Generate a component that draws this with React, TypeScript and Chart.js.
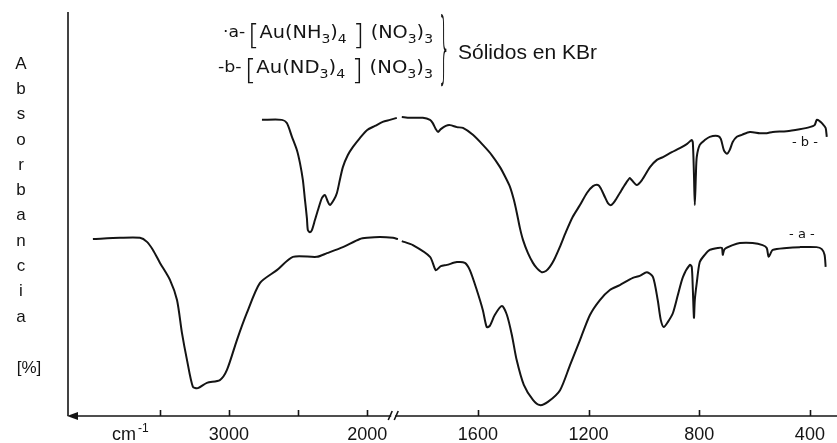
import { useEffect, useRef } from "react";
import { Chart, registerables, LinearScale } from "chart.js";

// Spectrum a: [Au(NH3)4](NO3)3 — wavenumber (cm-1) and absorbance reading (%).
// A null value marks the splice in the recorder trace.
const wavenumbersA = [
  3983, 3787, 3643, 3592, 3549, 3498, 3426, 3375, 3339, 3303, 3260, 3224, 3159, 3065, 3014,
  2942, 2870, 2776, 2653, 2537, 2364, 2291, 2176, 2053, 2000, 1954, 1907, 1889, 1882, 1875,
  1835, 1773, 1752, 1734, 1712, 1676, 1647, 1629, 1604, 1582, 1568, 1557, 1539, 1513, 1495,
  1477, 1460, 1434, 1401, 1376, 1347, 1303, 1267, 1231, 1195, 1159, 1123, 1087, 1040, 1015,
  989, 967, 950, 939, 928, 913, 895, 877, 859, 834, 827, 823, 819, 816, 809, 798, 780, 762,
  733, 718, 715, 708, 679, 653, 607, 571, 556, 549, 534, 484, 437, 376, 357, 347, 343,
];
const absorbanceA: (number | null)[] = [
  43.8, 44.1, 44.1, 43.1, 41.1, 37.9, 33.7, 28.7, 20.5, 13.9, 7.2, 6.9, 8.2, 8.9, 11.4,
  18.8, 25.5, 32.9, 36.1, 39.4, 39.4, 40.3, 41.8, 43.8, 44.1, 44.3, 44.1, 43.8, null, 43.3,
  42.3, 39.4, 36.1, 37.1, 37.4, 38.1, 37.9, 36.1, 31.2, 26.2, 22.0, 22.3, 25.0, 27.2, 25.0,
  20.0, 13.9, 7.7, 4.0, 2.7, 3.5, 6.4, 12.6, 18.8, 25.0, 28.7, 31.2, 32.4, 34.2, 34.7,
  35.6, 34.4, 28.7, 23.8, 22.0, 23.3, 25.5, 30.0, 34.4, 37.4, 36.9, 31.2, 24.3, 28.7, 32.9, 38.1, 39.9, 41.1,
  41.6, 41.6, 39.9, 41.3, 42.3, 42.8, 42.8, 42.3, 41.6, 39.4, 41.1, 41.6, 41.8, 41.8, 41.3, 39.9, 36.9,
];

// Spectrum b: [Au(ND3)4](NO3)3.
const wavenumbersB = [
  2761, 2617, 2581, 2544, 2508, 2486, 2465, 2450, 2436, 2429, 2414, 2400, 2378, 2356, 2327,
  2306, 2284, 2270, 2241, 2219, 2198, 2176, 2140, 2103, 2053, 2000, 1972, 1944, 1918, 1893,
  1884, 1875, 1846, 1799, 1773, 1763, 1752, 1744, 1734, 1716, 1701, 1676, 1654, 1618, 1582,
  1550, 1520, 1499, 1484, 1470, 1459, 1448, 1437, 1419, 1401, 1387, 1369, 1354, 1340, 1325,
  1304, 1282, 1257, 1231, 1206, 1184, 1166, 1156, 1141, 1130, 1119, 1105, 1087, 1069, 1051,
  1044, 1026, 1007, 978, 953, 931, 899, 870, 845, 827, 823, 819, 816, 812, 809, 798, 780,
  762, 733, 722, 711, 700, 690, 679, 664, 646, 617, 581, 556, 534, 484, 437, 401, 383, 375,
  365, 354, 343, 339,
];
const absorbanceB: (number | null)[] = [
  73.3, 73.3, 72.5, 69.1, 65.8, 62.6, 58.4, 53.5, 49.0, 46.0, 45.5, 46.0, 48.5, 51.0, 54.0,
  54.7, 53.0, 52.2, 53.5, 55.2, 58.4, 61.6, 64.6, 66.6, 68.8, 70.8, 71.8, 72.8, 73.3, 73.8,
  null, 74.0, 73.8, 73.8, 73.3, 72.5, 71.0, 70.3, 71.0, 71.8, 72.0, 71.5, 71.3, 69.6, 67.1,
  64.6, 61.6, 58.9, 56.7, 53.5, 50.2, 46.5, 43.6, 40.3, 37.9, 36.6, 35.6, 35.9, 36.9, 38.6,
  41.8, 45.5, 49.3, 52.2, 55.2, 56.9, 57.2, 56.4, 54.2, 52.7, 52.2, 53.2, 55.2, 57.2, 58.9,
  58.4, 57.2, 58.4, 61.6, 63.4, 64.1, 65.3, 66.3, 67.3, 68.3, 67.6, 59.7, 52.2, 59.7, 64.1, 67.1, 68.3,
  69.1, 69.3, 68.6, 65.8, 64.9, 65.8, 67.8, 69.1, 69.6, 70.3, 70.0, 70.0, 70.3, 70.5, 71.0, 71.5, 72.0, 73.3,
  73.0, 72.3, 71.3, 69.1,
];

// Wavenumber axis
const axisTicks = [3500, 3000, 2500, 2000, 1600, 1200, 800, 400];
const tickLabels = ["", "3000", "", "2000", "1600", "1200", "800", "400"];
const axisBreakAt = 1906;
const axisMin = 302;
const axisMax = 4163;

// Curve tags placed at (wavenumber, absorbance)
const curveTags = [
  { text: "- a -", wn: 429, value: 44.8 },
  { text: "- b -", wn: 418, value: 67.6 },
];

const yTitle = ["A", "b", "s", "o", "r", "b", "a", "n", "c", "i", "a"];
const yUnit = "[%]";
const sampleNote = "Sólidos en KBr";

const INK = "#141414";
const FORMULA_FONT = '"DejaVu Sans", sans-serif';
const PLAIN_FONT = '"Liberation Sans", Arial, sans-serif';

// Above 2000 cm-1 the recorder runs at half the scale used below it.
const SCALE_CHANGE = 2000;
const splitPosition = (w: number) => (w <= SCALE_CHANGE ? SCALE_CHANGE - w : -(w - SCALE_CHANGE) / 2);
const fromSplitPosition = (p: number) => (p >= 0 ? SCALE_CHANGE - p : SCALE_CHANGE - 2 * p);

class SplitWavenumberScale extends LinearScale {
  static id = "splitWavenumber";
  getPixelForValue(value: number) {
    if (value === null || value === undefined || isNaN(value)) return NaN;
    const p0 = splitPosition(this.max);
    const p1 = splitPosition(this.min);
    return this.getPixelForDecimal((splitPosition(value) - p0) / (p1 - p0));
  }
  getValueForPixel(pixel: number) {
    const p0 = splitPosition(this.max);
    const p1 = splitPosition(this.min);
    return fromSplitPosition(p0 + this.getDecimalForPixel(pixel) * (p1 - p0));
  }
}

Chart.register(...registerables, SplitWavenumberScale);

type Run = { t: string; size: number; dy: number; weight?: number };

const runFont = (r: Run) => `${r.weight ?? 400} ${r.size}px ${FORMULA_FONT}`;

function drawRuns(ctx: CanvasRenderingContext2D, runs: Run[], x0: number, x1: number, baseline: number) {
  let total = 0;
  for (const r of runs) {
    ctx.font = runFont(r);
    total += ctx.measureText(r.t).width;
  }
  ctx.save();
  ctx.translate(x0, baseline);
  ctx.scale((x1 - x0) / total, 1);
  let cx = 0;
  for (const r of runs) {
    ctx.font = runFont(r);
    ctx.fillText(r.t, cx, r.dy);
    cx += ctx.measureText(r.t).width;
  }
  ctx.restore();
}

const formulaRuns = (tag: string, ligand: string): Run[] => [
  { t: tag, size: 16, dy: -1 },
  { t: " ", size: 8, dy: 0 },
  { t: "[", size: 28, dy: 7, weight: 200 },
  { t: "Au(N" + ligand, size: 18, dy: 0 },
  { t: "3", size: 13, dy: 5 },
  { t: ")", size: 18, dy: 0 },
  { t: "4", size: 13, dy: 5 },
  { t: " ", size: 18, dy: 0 },
  { t: "]", size: 28, dy: 7, weight: 200 },
  { t: " (NO", size: 18, dy: 0 },
  { t: "3", size: 13, dy: 5 },
  { t: ")", size: 18, dy: 0 },
  { t: "3", size: 13, dy: 5 },
];

const spectrumFrame = {
  id: "spectrumFrame",
  afterDraw(chart: Chart) {
    const { ctx, chartArea: area } = chart;
    const x = chart.scales.x;
    const y = chart.scales.y;
    ctx.save();
    ctx.strokeStyle = INK;
    ctx.fillStyle = INK;
    ctx.lineWidth = 1.6;

    // absorbance axis
    ctx.beginPath();
    ctx.moveTo(area.left, area.top);
    ctx.lineTo(area.left, area.bottom);
    ctx.stroke();

    // wavenumber axis with arrow toward higher wavenumbers
    ctx.beginPath();
    ctx.moveTo(area.left + 4, area.bottom);
    ctx.lineTo(area.right, area.bottom);
    ctx.stroke();
    ctx.beginPath();
    ctx.moveTo(area.left - 1, area.bottom);
    ctx.lineTo(area.left + 10, area.bottom - 4);
    ctx.lineTo(area.left + 10, area.bottom + 4);
    ctx.closePath();
    ctx.fill();

    // tick marks
    ctx.beginPath();
    for (const t of axisTicks) {
      const px = Math.round(x.getPixelForValue(t)) + 0.5;
      ctx.moveTo(px, area.bottom);
      ctx.lineTo(px, area.bottom - 6);
    }
    ctx.stroke();

    // axis break
    const bx = x.getPixelForValue(axisBreakAt);
    ctx.fillStyle = "#fff";
    ctx.fillRect(bx - 2, area.bottom - 2, 4, 4);
    ctx.beginPath();
    ctx.moveTo(bx - 5, area.bottom + 4);
    ctx.lineTo(bx - 1, area.bottom - 5);
    ctx.moveTo(bx + 1, area.bottom + 4);
    ctx.lineTo(bx + 5, area.bottom - 5);
    ctx.stroke();
    ctx.fillStyle = INK;

    // tick labels
    ctx.font = `18px ${PLAIN_FONT}`;
    ctx.textAlign = "center";
    ctx.textBaseline = "alphabetic";
    axisTicks.forEach((t, i) => {
      if (tickLabels[i]) ctx.fillText(tickLabels[i], x.getPixelForValue(t), 440);
    });
    ctx.textAlign = "left";
    ctx.fillText("cm", 112, 440);
    ctx.font = `12px ${PLAIN_FONT}`;
    ctx.fillText("-1", 138, 432);

    // vertical axis title
    ctx.font = `17px ${PLAIN_FONT}`;
    ctx.textAlign = "center";
    ctx.textBaseline = "middle";
    yTitle.forEach((ch, i) => ctx.fillText(ch, 21, 64 + i * 25.3));
    ctx.fillText(yUnit, 29, 368);

    // curve tags
    ctx.font = `13px ${FORMULA_FONT}`;
    for (const tag of curveTags) {
      ctx.fillText(tag.text, x.getPixelForValue(tag.wn), y.getPixelForValue(tag.value));
    }

    // sample legend
    ctx.textAlign = "left";
    ctx.textBaseline = "alphabetic";
    drawRuns(ctx, formulaRuns("·a-", "H"), 223, 433, 38);
    drawRuns(ctx, formulaRuns("-b-", "D"), 218, 433, 73);

    ctx.save();
    ctx.translate(444, 54);
    ctx.scale(1, 3.9);
    ctx.font = `200 20px ${FORMULA_FONT}`;
    ctx.textAlign = "center";
    ctx.textBaseline = "middle";
    ctx.fillText("}", 0, 0);
    ctx.restore();

    ctx.font = `21px ${PLAIN_FONT}`;
    ctx.fillText(sampleNote, 458, 59);
    ctx.restore();
  },
};

export default function App() {
  const canvasRef = useRef<HTMLCanvasElement | null>(null);

  useEffect(() => {
    document.body.style.margin = "0";
    const canvas = canvasRef.current;
    if (!canvas) return;
    const line = (ws: number[], vs: (number | null)[]) => ws.map((w, i) => ({ x: w, y: vs[i] }));
    const chart = new Chart(canvas, {
      type: "line",
      data: {
        datasets: [
          {
            label: "a",
            data: line(wavenumbersA, absorbanceA),
            borderColor: INK,
            borderWidth: 2,
            pointRadius: 0,
            tension: 0.25,
            spanGaps: false,
          },
          {
            label: "b",
            data: line(wavenumbersB, absorbanceB),
            borderColor: INK,
            borderWidth: 2,
            pointRadius: 0,
            tension: 0.25,
            spanGaps: false,
          },
        ],
      },
      options: {
        animation: false,
        responsive: true,
        maintainAspectRatio: false,
        layout: { padding: { left: 68, right: 0, top: 12, bottom: 27 } },
        plugins: { legend: { display: false }, tooltip: { enabled: false } },
        scales: {
          x: { type: "splitWavenumber" as any, min: axisMin, max: axisMax, display: false },
          y: { type: "linear", min: 0, max: 100, display: false },
        },
      },
      plugins: [spectrumFrame],
    });
    return () => chart.destroy();
  }, []);

  return (
    <div style={{ position: "relative", width: 837, height: 443, background: "#fff" }}>
      <canvas ref={canvasRef} />
    </div>
  );
}
